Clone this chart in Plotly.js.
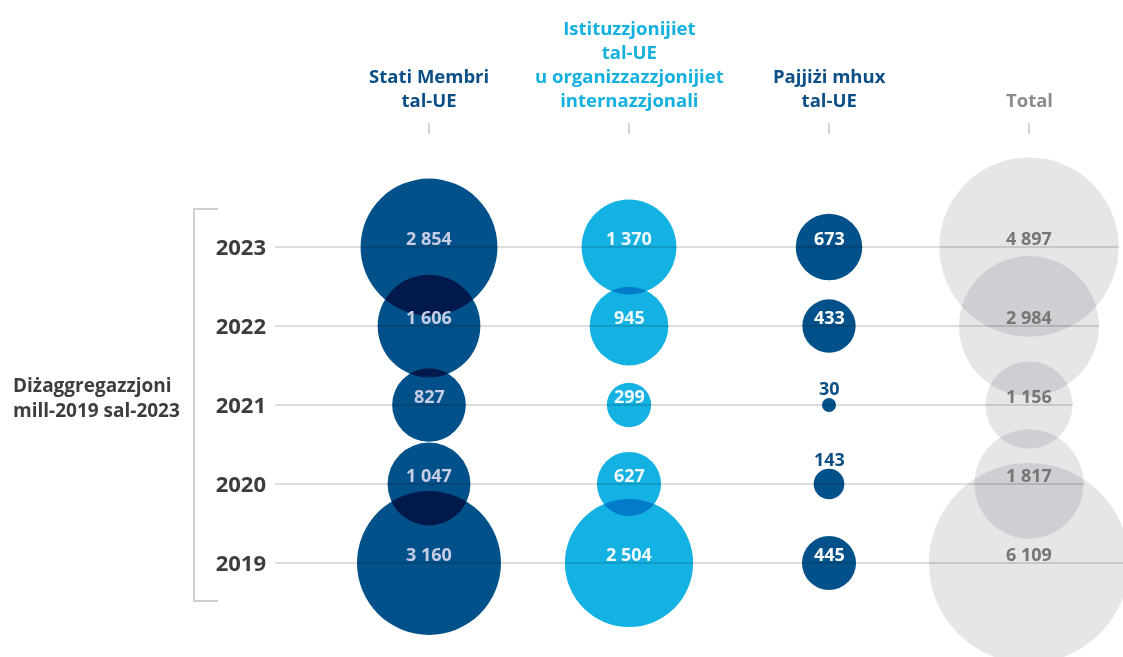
<!DOCTYPE html>
<html><head><meta charset="utf-8">
<script src="https://cdn.plot.ly/plotly-3.0.1.min.js"></script>
<style>
html,body{margin:0;padding:0;background:#fff;}
#chart{width:1123px;height:657px;}
.scatterlayer path.point{mix-blend-mode:multiply;}
</style></head><body><div id="chart"></div>
<script>
// ---- data ----
const years = ['2023', '2022', '2021', '2020', '2019'];
const categories = ['Stati Membri tal-UE', 'Istituzzjonijiet tal-UE u organizzazzjonijiet internazzjonali', 'Pajjiżi mhux tal-UE', 'Total'];
const headerLabels = ['Stati Membri<br>tal-UE', 'Istituzzjonijiet<br>tal-UE<br>u organizzazzjonijiet<br>internazzjonali', 'Pajjiżi mhux<br>tal-UE', 'Total'];
const statiMembri = [2854, 1606, 827, 1047, 3160];
const istituzzjonijiet = [1370, 945, 299, 627, 2504];
const pajjizi = [673, 433, 30, 143, 445];
const total = [4897, 2984, 1156, 1817, 6109];
const sideLabel = 'Diżaggregazzjoni<br>mill-2019 sal-2023';

// ---- styling / layout ----
const W = 1123, H = 657;
const M = {l: 275, r: 0, t: 135, b: 0};
const PW = W - M.l - M.r, PH = H - M.t - M.b;
const xRange = [-0.77, 3.47];
const yRange = [-1.19, 5.418];
const pxPerX = PW / (xRange[1] - xRange[0]);
const maxDiameter = 144;
const maxVal = Math.max(...statiMembri);
const sizeref = 2 * maxVal / (maxDiameter * maxDiameter);
const diam = v => Math.sqrt(2 * v / sizeref);
const px = p => (p - M.l) / PW;
const py = p => (H - M.b - p) / PH;
const yIndex = i => years.length - 1 - i;

const series = [statiMembri, istituzzjonijiet, pajjizi, total];
const fill = ['#02518a', '#14b2e3', '#02518a', '#e5e6e8'];
const inLabel = ['#c6cde4', '#f2f9ff', '#ffffff', '#767676'];
const headColor = ['#0b4f86', '#14b0e0', '#0b4f86', '#8c8c8c'];
const outLabel = '#0b4f86';
const font = '"Open Sans", "Noto Sans", sans-serif';
const fmt = v => String(v).replace(/\B(?=(\d{3})+(?!\d))/g, ' ');

const traces = series.map((vals, c) => ({
  type: 'scatter', mode: 'markers',
  x: years.map(() => categories[c]), y: years,
  marker: {size: vals, sizemode: 'area', sizeref: sizeref, color: fill[c], line: {width: 0}, opacity: 1},
  cliponaxis: false, hoverinfo: 'skip', showlegend: false
}));

const annotations = [];
series.forEach((vals, c) => {
  vals.forEach((v, i) => {
    const d = diam(v);
    const inside = d >= 36;
    annotations.push({
      x: c, y: yIndex(i), xref: 'x', yref: 'y', text: fmt(v), showarrow: false,
      yshift: inside ? 9 : d / 2 + 10,
      font: {family: font, size: 18, weight: 700, color: inside ? inLabel[c] : outLabel}
    });
  });
  annotations.push({
    x: c, xref: 'x', y: py(114), yref: 'paper', yanchor: 'bottom', text: headerLabels[c],
    showarrow: false, align: 'center',
    font: {family: font, size: 18.5, weight: 700, color: headColor[c]}
  });
});
annotations.push({
  x: px(11), xref: 'paper', xanchor: 'left', y: py(397), yref: 'paper', yanchor: 'middle',
  text: sideLabel, showarrow: false, align: 'left',
  font: {family: font, size: 19, weight: 700, color: '#3d3d3d'}
});

const shapes = years.map((yr, i) => ({
  type: 'line', layer: 'below', xref: 'x', yref: 'y',
  x0: xRange[0] - 2 / pxPerX, x1: 3 + diam(total[i]) / 2 / pxPerX, y0: yIndex(i), y1: yIndex(i),
  line: {color: '#d2d2d2', width: 1.5}
}));
shapes.push({
  type: 'path', layer: 'below', xref: 'paper', yref: 'paper',
  path: `M ${px(218)} ${py(209)} L ${px(194)} ${py(209)} L ${px(194)} ${py(601)} L ${px(218)} ${py(601)}`,
  line: {color: '#cfcfcf', width: 2}
});

const layout = {
  width: W, height: H, autosize: false, margin: M,
  paper_bgcolor: '#ffffff', plot_bgcolor: 'rgba(0,0,0,0)',
  xaxis: {type: 'category', categoryorder: 'array', categoryarray: categories, range: xRange,
    side: 'top', ticks: 'outside', ticklen: 11, tickwidth: 2, tickcolor: '#d3d3d3',
    showticklabels: false, showgrid: false, zeroline: false, showline: false, fixedrange: true},
  yaxis: {type: 'category', categoryorder: 'array', categoryarray: years.slice().reverse(), range: yRange,
    showgrid: false, zeroline: false, showline: false, ticks: '', ticklabelstandoff: 8,
    tickfont: {family: font, size: 22, weight: 700, color: '#3d3d3d'}, fixedrange: true},
  annotations: annotations, shapes: shapes, hovermode: false
};

Plotly.newPlot('chart', traces, layout, {displayModeBar: false, staticPlot: true});
</script></body></html>
